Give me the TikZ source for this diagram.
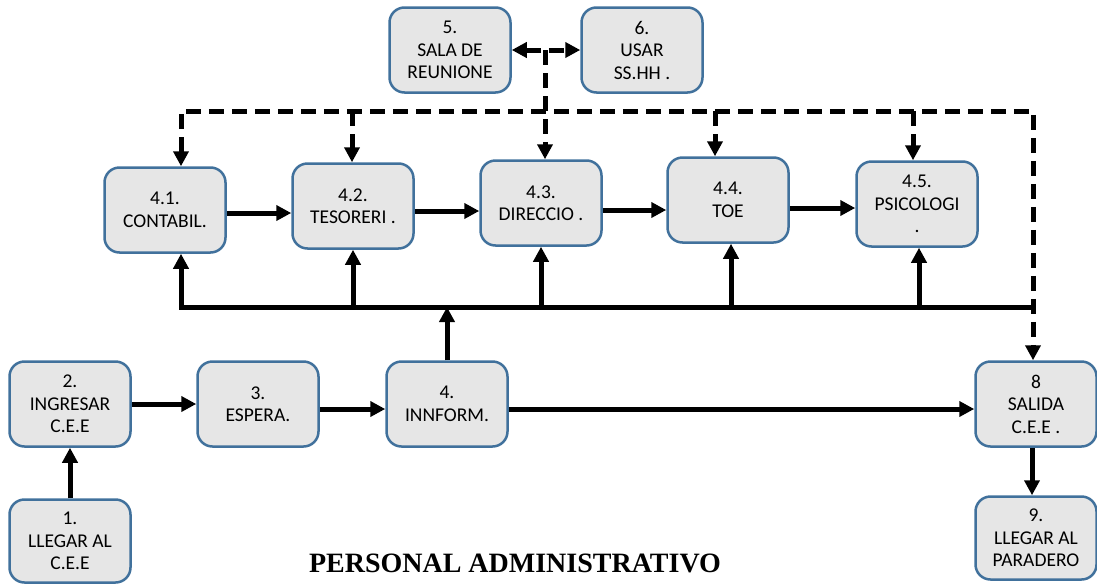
\documentclass[tikz,border=0pt]{standalone}
\usepackage{fontspec}
\setmainfont{Carlito}
\newfontfamily\titlefont{Liberation Serif}
\usetikzlibrary{arrows.meta}
\definecolor{boxfill}{HTML}{E6E6E6}
\definecolor{boxline}{HTML}{41719C}
\begin{document}
\begin{tikzpicture}[x=1pt,y=-1pt,
  procbox/.style={draw=boxline, line width=2.5pt, fill=boxfill, rounded corners=15pt,
    minimum width=121pt, minimum height=85pt, inner sep=0pt, align=center,
    font=\fontsize{19.5}{22.5}\selectfont},
  conn/.style={line width=5pt, draw=black},
  tip/.style={},
  arr/.style={conn, -{Triangle[length=15pt,width=15pt]}},
  darr/.style={conn, dash pattern=on 15pt off 8pt}
]
\useasboundingbox (0,0) rectangle (1097,584);
% nodes
\node[procbox] (n5) at (450,50) {5.\\SALA DE\\REUNIONE};
\node[procbox] (n6) at (642,50) {6.\\USAR\\SS.HH .};
\node[procbox] (n41) at (165,210) {4.1.\\CONTABIL.};
\node[procbox] (n42) at (353,206) {4.2.\\TESORERI .};
\node[procbox] (n43) at (541,203) {4.3.\\DIRECCIO .};
\node[procbox] (n44) at (728,200) {4.4.\\TOE};
\node[procbox] (n45) at (917,204) {4.5.\\PSICOLOGI\\.};
\node[procbox] (n2) at (70,404) {2.\\INGRESAR\\C.E.E};
\node[procbox] (n3) at (258,404) {3.\\ESPERA.};
\node[procbox] (n4) at (447,404) {4.\\INNFORM.};
\node[procbox] (n8) at (1036,404) {8\\SALIDA\\C.E.E .};
\node[procbox, minimum height=83pt] (n1) at (70,541) {1.\\LLEGAR AL\\C.E.E};
\node[procbox, minimum height=83pt] (n9) at (1036,538) {9.\\LLEGAR AL\\PARADERO};
\node[font=\titlefont\bfseries\fontsize{28}{32}\selectfont] (title) at (515,563) {PERSONAL ADMINISTRATIVO};
% coordinates
\coordinate (busL) at (181,307);
\coordinate (busR) at (1035,307);
\coordinate (dL) at (181,111);
\coordinate (dR) at (1033,111);
\coordinate (dT) at (545,50);
% lower flow
\draw[arr] (n1) -- (n2);
\draw[arr] (n2.east) -- (n3.west);
\draw[arr] ([yshift=-5pt]n3.east) -- ([yshift=-5pt]n4.west);
\draw[arr] ([yshift=-5pt]n4.east) -- ([yshift=-5pt]n8.west);
\draw[arr] ([xshift=-4pt]n8.south) -- ([xshift=-4pt]n9.north);
% middle row
\draw[arr] ([yshift=-3pt]n41.east) -- ([yshift=-3pt]n41.east -| n42.west);
\draw[arr] ([yshift=-5pt]n42.east) -- ([yshift=-5pt]n42.east -| n43.west);
\draw[arr] ([yshift=-7pt]n43.east) -- ([yshift=-7pt]n43.east -| n44.west);
\draw[arr] ([yshift=-8pt]n44.east) -- ([yshift=-8pt]n44.east -| n45.west);
% bus
\draw[arr] (n4.north) -- (n4.north |- busL);
\draw[arr, line join=miter] (busR) -- (busL) -- (busL |- n41.south);
\draw[arr] (n42.south |- busL) -- (n42.south);
\draw[arr] (n43.south |- busL) -- (n43.south);
\draw[arr] ([xshift=3pt]n44.south |- busL) -- ([xshift=3pt]n44.south);
\draw[arr] ([xshift=2pt]n45.south |- busL) -- ([xshift=2pt]n45.south);
% dashed
\draw[darr, line join=miter, {Triangle[length=15pt,width=15pt]}-{Triangle[length=15pt,width=15pt]}]
  (dL |- n41.north) -- (dL) -- (dR) -- (dR |- n8.north);
\draw[darr, -{Triangle[length=15pt,width=15pt]}] (352,111) -- (352,0 |- n42.north);
\draw[darr, -{Triangle[length=15pt,width=15pt]}] (715,111) -- (715,0 |- n44.north);
\draw[darr, -{Triangle[length=15pt,width=15pt]}] (913,111) -- (913,0 |- n45.north);
\draw[darr, -{Triangle[length=15pt,width=15pt]}] (dT) -- (dT |- n43.north);
\draw[darr, {Triangle[length=15pt,width=15pt]}-{Triangle[length=15pt,width=15pt]}] (n5.east) -- (n6.west);
\end{tikzpicture}
\end{document}
